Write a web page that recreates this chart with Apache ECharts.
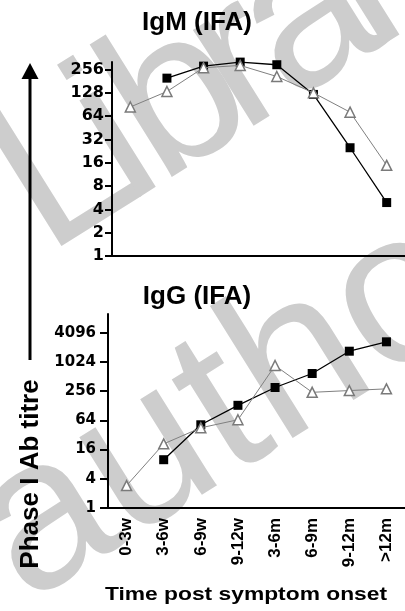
<!DOCTYPE html>
<html>
<head>
<meta charset="utf-8">
<script src="https://cdn.jsdelivr.net/npm/echarts@6/dist/echarts.min.js"></script>
<style>
  html, body { margin: 0; padding: 0; background: #fff; }
  #chart { width: 405px; height: 611px; }
</style>
</head>
<body>
<div id="chart"></div>
<script>
// time bins after symptom onset
const categories = ['0-3w', '3-6w', '6-9w', '9-12w', '3-6m', '6-9m', '9-12m', '>12m']
// IgM phase I titres (filled squares / open triangles)
const igmSquare = [null, 198, 283, 319, 295, 122, 25, 4.9]
const igmTriangle = [84, 133, 270, 289, 208, 128, 72, 14.8]
// IgG phase I titres
const iggSquare = [null, 9.9, 52, 131, 305, 593, 1710, 2670]
const iggTriangle = [2.9, 21, 45, 66, 866, 243, 264, 286]
// y tick labels
const igmTicks = [1, 2, 4, 8, 16, 32, 64, 128, 256]
const iggTicks = [1, 4, 16, 64, 256, 1024, 4096]

const chart = echarts.init(document.getElementById('chart'))

const bold = 'Liberation Sans, Arial, sans-serif'

function xAxis (idx, showLabel) {
  return {
    type: 'category',
    gridIndex: idx,
    data: categories,
    boundaryGap: true,
    axisLine: { lineStyle: { color: '#000', width: 2 } },
    axisTick: { alignWithLabel: true, length: 6, lineStyle: { color: '#000', width: 2 } },
    axisLabel: {
      show: showLabel,
      rotate: 90,
      margin: 10,
      color: '#000',
      fontFamily: bold,
      fontWeight: 'bold',
      fontSize: 17
    },
    splitLine: { show: false }
  }
}

function yAxis (idx, base, max, ticks, fs, tickLen, margin) {
  return {
    type: 'log',
    gridIndex: idx,
    logBase: base,
    min: 1,
    max: max,
    axisLine: { show: true, lineStyle: { color: '#000', width: 2 } },
    axisTick: { show: true, length: tickLen, customValues: ticks, lineStyle: { color: '#000', width: 2 } },
    axisLabel: {
      customValues: ticks,
      formatter: (v) => String(Math.round(v)),
      margin: margin,
      color: '#000',
      fontFamily: 'DejaVu Sans',
      fontWeight: 'bold',
      fontSize: fs
    },
    splitLine: { show: false }
  }
}

function squareSeries (idx, data) {
  return {
    type: 'line',
    xAxisIndex: idx,
    yAxisIndex: idx,
    data: data,
    symbol: 'rect',
    symbolSize: 9,
    itemStyle: { color: '#000' },
    lineStyle: { color: '#000', width: 1.3 },
    z: 3,
    animation: false
  }
}

function triangleSeries (idx, data) {
  return {
    type: 'line',
    xAxisIndex: idx,
    yAxisIndex: idx,
    data: data,
    symbol: 'triangle',
    symbolSize: 10,
    itemStyle: { color: '#fff', borderColor: '#7a7a7a', borderWidth: 1.5 },
    lineStyle: { color: '#808080', width: 1 },
    z: 4,
    animation: false
  }
}

// watermark word laid out letter by letter along a tilted baseline
const wmFont = 'Liberation Sans, Arial'
const wmRot = 32 * Math.PI / 180
const measure = document.createElement('canvas').getContext('2d')
function watermark (word, x0, y0, size, spacing) {
  measure.font = size + 'px ' + wmFont
  const els = []
  let d = 0
  for (const ch of word) {
    els.push({
      type: 'text', z: -10, silent: true, rotation: wmRot,
      x: x0 + d * Math.cos(wmRot), y: y0 - d * Math.sin(wmRot),
      style: { text: ch, fontSize: size, fontFamily: wmFont, fill: '#cdcdcd', verticalAlign: 'middle' }
    })
    d += measure.measureText(ch).width * spacing
  }
  return els
}

const option = {
  backgroundColor: '#fff',
  animation: false,
  grid: [
    { left: 112, top: 62, width: 307, height: 194 },
    { left: 108, top: 314, width: 307, height: 194 }
  ],
  xAxis: [xAxis(0, false), xAxis(1, true)],
  yAxis: [
    yAxis(0, 2, 320, igmTicks, 16, 7, 8),
    yAxis(1, 4, 10000, iggTicks, 15, 8, 12)
  ],
  series: [
    squareSeries(0, igmSquare),
    triangleSeries(0, igmTriangle),
    squareSeries(1, iggSquare),
    triangleSeries(1, iggTriangle)
  ],
  graphic: [
    ...watermark('Library', 15, 205, 215, 0.8),
    ...watermark('author', -5, 554, 215, 1),
    // panel titles
    {
      type: 'text', x: 197, y: 23,
      style: { text: 'IgM (IFA)', fontSize: 26, fontWeight: 'bold', fontFamily: bold, fill: '#000', align: 'center', verticalAlign: 'middle' }
    },
    {
      type: 'text', x: 197, y: 297,
      style: { text: 'IgG (IFA)', fontSize: 26, fontWeight: 'bold', fontFamily: bold, fill: '#000', align: 'center', verticalAlign: 'middle' }
    },
    // shared y title with arrow
    {
      type: 'text', x: 31, y: 474, rotation: Math.PI / 2,
      style: { text: 'Phase I Ab titre', fontSize: 26, fontWeight: 'bold', fontFamily: bold, fill: '#000', align: 'center', verticalAlign: 'middle' }
    },
    {
      type: 'line',
      shape: { x1: 30, y1: 360, x2: 30, y2: 76 },
      style: { stroke: '#000', lineWidth: 3 }
    },
    {
      type: 'polygon',
      shape: { points: [[30, 63], [21.5, 79], [38.5, 79]] },
      style: { fill: '#000' }
    },
    // x title
    {
      type: 'text', x: 246, y: 595, scaleX: 1.2,
      style: { text: 'Time post symptom onset', fontSize: 19, fontWeight: 'bold', fontFamily: bold, fill: '#000', align: 'center', verticalAlign: 'middle' }
    }
  ]
}

chart.setOption(option)
</script>
</body>
</html>
